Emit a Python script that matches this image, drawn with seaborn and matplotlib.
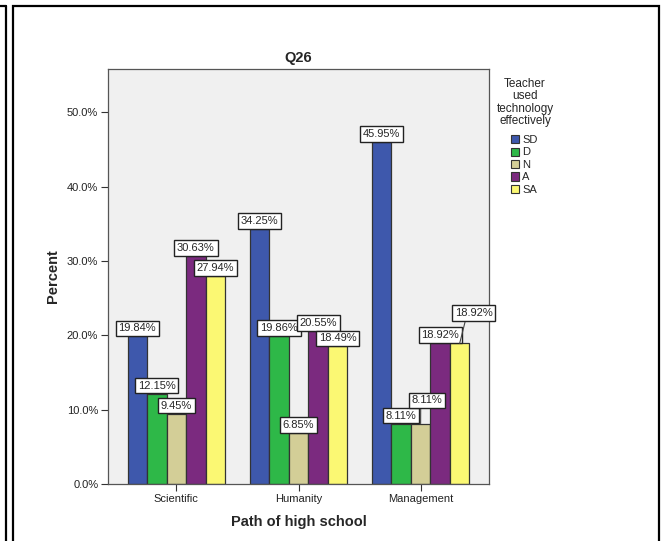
import numpy as np
import pandas as pd
import matplotlib
matplotlib.use("Agg")
import matplotlib.pyplot as plt
from matplotlib.patches import Patch, Rectangle
from matplotlib.lines import Line2D
import seaborn as sns

# data
paths = ['Scientific', 'Humanity', 'Management']
responses = ['SD', 'D', 'N', 'A', 'SA']
scientific = [19.84, 12.15, 9.45, 30.63, 27.94]
humanity = [34.25, 19.86, 6.85, 20.55, 18.49]
management = [45.95, 8.11, 8.11, 18.92, 18.92]

colors = ['#3E58AC', '#2EB848', '#D3CE97', '#7B2A7F', '#FBF873']

df = pd.DataFrame({
    'Path of high school': np.repeat(paths, len(responses)),
    'Response': responses * len(paths),
    'Percent': scientific + humanity + management,
})

sns.set_style('white')
plt.rcParams['font.family'] = ['Liberation Sans', 'DejaVu Sans']

fig = plt.figure(figsize=(6.62, 5.41), dpi=100)
ax = fig.add_axes([108 / 662, 1 - 484 / 541, 381 / 662, 415 / 541])
ax.set_facecolor('#F0F0F0')

sns.barplot(data=df, x='Path of high school', y='Percent', hue='Response',
            hue_order=responses, order=paths, palette=colors, width=0.8,
            edgecolor='#333333', linewidth=0.9, legend=False, ax=ax,
            errorbar=None, saturation=1)

# labels that SPSS moved off their bars (offset in points)
moved = {('Management', 'N'): (4.5, 11), ('Management', 'SA'): (10, 16)}

for i, cont in enumerate(ax.containers):
    for j, bar in enumerate(cont):
        h = bar.get_height()
        xc = bar.get_x() + bar.get_width() / 2
        box = dict(boxstyle='square,pad=0.25', fc='white', ec='#222222', lw=1.0)
        key = (paths[j], responses[i])
        if key in moved:
            dx, dy = moved[key]
            ax.annotate(f'{h:.2f}%', xy=(xc, h), xytext=(dx, dy + 2.2),
                        textcoords='offset points', ha='center', va='bottom',
                        fontsize=8, bbox=box, zorder=6, annotation_clip=False,
                        arrowprops=dict(arrowstyle='-', color='#444444', lw=0.8,
                                        shrinkA=0, shrinkB=0, relpos=(0.3, 0)))
        else:
            ax.annotate(f'{h:.2f}%', xy=(xc, h), xytext=(0, 2.2),
                        textcoords='offset points', ha='center', va='bottom',
                        fontsize=8, bbox=box, zorder=5)

ax.set_ylim(0, 55.8)
ax.set_xlim(-0.56, 2.56)
ax.set_yticks(np.arange(0, 51, 10))
ax.set_yticklabels([f'{v:.1f}%' for v in np.arange(0, 51, 10)])
ax.tick_params(axis='both', labelsize=8, length=5, width=0.8, color='#333333',
               labelcolor='#222222', direction='out', left=True, bottom=True, pad=2)
for s in ax.spines.values():
    s.set_color('#555555')
    s.set_linewidth(0.9)

ax.set_title('Q26', fontsize=10.5, fontweight='bold', pad=5)
ax.set_xlabel('Path of high school', fontsize=10.5, fontweight='bold', labelpad=8)
ax.set_ylabel('Percent', fontsize=10.5, fontweight='bold', labelpad=5)

# legend
fig.text(525 / 662, 1 - 78 / 541, 'Teacher\nused\ntechnology\neffectively',
         ha='center', va='top', fontsize=8.5, linespacing=1.05, multialignment='center')
handles = [Patch(facecolor=c, edgecolor='#333333', lw=0.8) for c in colors]
fig.legend(handles, responses, loc='upper left', bbox_to_anchor=(511 / 662, 1 - 135 / 541),
           frameon=False, fontsize=8, handlelength=0.75, handleheight=0.75,
           handletextpad=0.25, labelspacing=0.22, borderpad=0, borderaxespad=0)

# outer frames
fig.add_artist(Rectangle((13 / 662, -0.05), 646 / 662, 1 - 6 / 541 + 0.05,
                         transform=fig.transFigure, fill=False, ec='black', lw=1.6))
fig.add_artist(Line2D([0, 6 / 662], [1 - 6 / 541, 1 - 6 / 541],
                      transform=fig.transFigure, color='black', lw=1.6))
fig.add_artist(Line2D([6 / 662, 6 / 662], [1 - 6 / 541, 0],
                      transform=fig.transFigure, color='black', lw=1.6))

fig.savefig('out.png', dpi=100)
